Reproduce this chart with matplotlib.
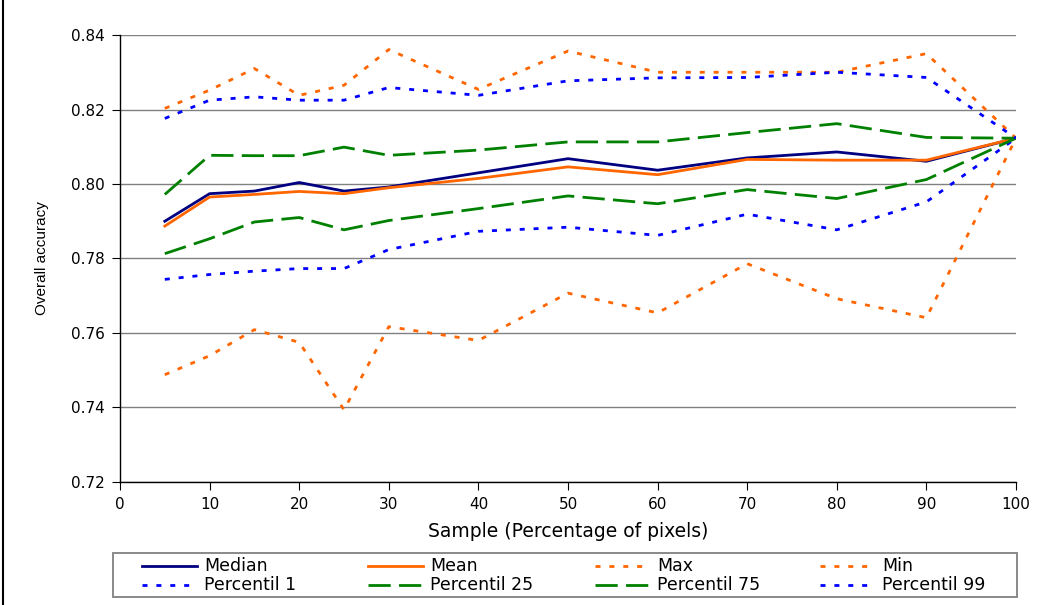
import matplotlib

matplotlib.use("Agg")
import matplotlib.pyplot as plt
from matplotlib.lines import Line2D
from matplotlib.patches import Rectangle

plt.rcParams.update({
    "font.family": ["DejaVu Sans"],
    "font.size": 11,
    "figure.facecolor": "white",
    "axes.facecolor": "white",
})

W, H = 1050, 605

NAVY = "#000080"
ORANGE = "#ff6600"
BLUE = "#0000ff"
GREEN = "#008000"

sample = [5, 10, 15, 20, 25, 30, 40, 50, 60, 70, 80, 90, 100]

median = [0.7900, 0.7974, 0.7981, 0.8004, 0.7981, 0.7992, 0.8030, 0.8068, 0.8037, 0.8070, 0.8086, 0.8061, 0.8123]
mean = [0.7887, 0.7965, 0.7972, 0.7980, 0.7974, 0.7990, 0.8015, 0.8046, 0.8025, 0.8066, 0.8064, 0.8064, 0.8123]
max_acc = [0.8203, 0.8252, 0.8310, 0.8238, 0.8265, 0.8361, 0.8254, 0.8357, 0.8300, 0.8300, 0.8300, 0.8350, 0.8123]
min_acc = [0.7488, 0.7539, 0.7609, 0.7575, 0.7394, 0.7617, 0.7580, 0.7707, 0.7654, 0.7786, 0.7692, 0.7641, 0.8123]
p1 = [0.7744, 0.7757, 0.7766, 0.7773, 0.7773, 0.7824, 0.7873, 0.7884, 0.7862, 0.7919, 0.7877, 0.7952, 0.8123]
p25 = [0.7813, 0.7853, 0.7898, 0.7910, 0.7877, 0.7902, 0.7934, 0.7968, 0.7947, 0.7985, 0.7961, 0.8012, 0.8123]
p75 = [0.7972, 0.8077, 0.8076, 0.8076, 0.8099, 0.8077, 0.8091, 0.8113, 0.8113, 0.8138, 0.8162, 0.8125, 0.8123]
p99 = [0.8176, 0.8225, 0.8234, 0.8225, 0.8225, 0.8259, 0.8238, 0.8277, 0.8285, 0.8286, 0.8300, 0.8286, 0.8123]

DOT = (0, (1.8, 3.2))
DASH = (0, (8, 3))

# legend order is row by row, as in the original
series = [
    ("Median", median, NAVY, "-"),
    ("Mean", mean, ORANGE, "-"),
    ("Max", max_acc, ORANGE, DOT),
    ("Min", min_acc, ORANGE, DOT),
    ("Percentil 1", p1, BLUE, DOT),
    ("Percentil 25", p25, GREEN, DASH),
    ("Percentil 75", p75, GREEN, DASH),
    ("Percentil 99", p99, BLUE, DOT),
]


def fx(px):
    return px / W


def fy(py):
    return 1 - py / H


fig = plt.figure(figsize=(W / 100, H / 100), dpi=100)
ax = fig.add_axes([fx(120), fy(482), 896 / W, 447 / H])

for name, vals, color, ls in series:
    ax.plot(sample, vals, color=color, linestyle=ls, linewidth=2, label=name)

ax.set_xlim(0, 100)
ax.set_ylim(0.72, 0.84)
ax.set_xticks(range(0, 101, 10))
ax.set_yticks([0.72 + 0.02 * i for i in range(7)])
ax.yaxis.set_major_formatter(plt.FuncFormatter(lambda v, _: f"{v:.2f}"))
ax.grid(axis="y", color="#808080", linewidth=1.0)
ax.set_axisbelow(True)
for s in ("top", "right"):
    ax.spines[s].set_visible(False)
for s in ("left", "bottom"):
    ax.spines[s].set_color("black")
    ax.spines[s].set_linewidth(1.0)
ax.tick_params(direction="out", length=6, color="black", labelsize=11, pad=5)
ax.set_xlabel("Sample (Percentage of pixels)", fontsize=13.5, labelpad=7)
ax.set_ylabel("Overall accuracy", fontsize=11, family="Liberation Sans", labelpad=16)

# legend box: 4 equal columns, 2 rows
fig.add_artist(Rectangle((fx(113), fy(597)), 904 / W, 44 / H, transform=fig.transFigure,
                         facecolor="white", edgecolor="#808080", linewidth=1.3))
col_x = [142, 368, 595, 820]
row_y = [566, 585]
for i, (name, _, color, ls) in enumerate(series):
    x0 = col_x[i % 4]
    y0 = row_y[i // 4]
    fig.add_artist(Line2D([fx(x0), fx(x0 + 55)], [fy(y0), fy(y0)], color=color,
                          linestyle=ls, linewidth=2, transform=fig.transFigure))
    fig.text(fx(x0 + 62), fy(y0), name, fontsize=12.5, va="center", ha="left")

fig.add_artist(Line2D([fx(3), fx(3)], [0, 1], color="black", linewidth=1.5))

fig.savefig("out.png", dpi=100, facecolor="white")
